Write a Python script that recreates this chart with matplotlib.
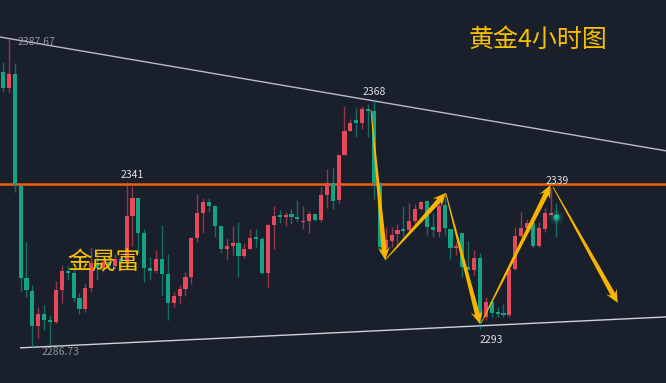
import numpy as np
import matplotlib
matplotlib.use("Agg")
import matplotlib.pyplot as plt
from matplotlib.patches import Polygon

plt.rcParams['font.family'] = ['Noto Sans CJK SC', 'DejaVu Sans']

# gold 4h candles (index = bar number)
opens = [2377.0, 2371.7, 2376.3, 2339.7, 2309.6, 2305.4, 2294.0, 2297.9, 2295.9, 2295.4,
         2305.7, 2311.9, 2311.3, 2303.1, 2299.5, 2306.4, 2314.5, 2312.9, 2314.9, 2313.6,
         2315.9, 2314.5, 2329.9, 2335.8, 2324.4, 2312.9, 2311.9, 2315.9, 2311.0, 2301.5,
         2303.8, 2306.1, 2310.0, 2322.7, 2330.9, 2334.5, 2333.2, 2326.6, 2319.1, 2320.1,
         2321.1, 2316.8, 2319.1, 2322.7, 2322.4, 2311.3, 2327.0, 2329.9, 2329.6, 2330.6,
         2329.6, 2327.9, 2328.3, 2330.6, 2328.6, 2336.8, 2340.7, 2335.1, 2349.9, 2357.7,
         2361.3, 2360.3, 2364.9, 2364.2, 2340.7, 2319.5, 2321.7, 2324.0, 2325.7, 2325.3,
         2328.3, 2332.2, 2334.8, 2326.3, 2324.7, 2333.5, 2325.7, 2319.5, 2324.4, 2313.2,
         2312.3, 2316.2, 2296.9, 2301.8, 2298.2, 2298.2, 2297.6, 2312.6, 2323.4, 2326.0,
         2327.6, 2320.1, 2325.7, 2330.2, 2330.2]
highs = [2380.2, 2387.67, 2379.9, 2339.7, 2321.4, 2307.4, 2300.2, 2300.8, 2297.6, 2308.7,
         2313.9, 2313.9, 2312.9, 2304.8, 2308.0, 2319.8, 2317.8, 2316.2, 2316.8, 2317.5,
         2316.8, 2341.0, 2339.7, 2335.8, 2325.7, 2316.5, 2318.8, 2327.0, 2317.5, 2305.1,
         2307.4, 2311.6, 2323.0, 2337.1, 2335.8, 2335.8, 2333.5, 2326.6, 2322.7, 2326.6,
         2327.9, 2321.1, 2325.7, 2325.7, 2323.0, 2327.6, 2333.2, 2331.9, 2331.2, 2332.2,
         2335.1, 2333.2, 2331.5, 2330.6, 2339.4, 2345.3, 2345.9, 2349.9, 2365.9, 2361.6,
         2365.2, 2365.9, 2366.5, 2368.0, 2340.7, 2326.3, 2326.3, 2327.3, 2333.2, 2334.2,
         2333.8, 2334.8, 2334.8, 2330.9, 2335.1, 2337.4, 2325.7, 2321.4, 2324.4, 2321.7,
         2318.8, 2317.8, 2303.4, 2301.8, 2300.2, 2301.2, 2312.6, 2326.3, 2331.2, 2328.9,
         2328.6, 2327.9, 2332.5, 2339.0, 2334.2]
lows = [2370.4, 2370.1, 2337.8, 2305.1, 2303.4, 2286.73, 2290.0, 2292.7, 2287.8, 2295.0,
        2301.5, 2309.0, 2301.8, 2297.9, 2298.5, 2305.0, 2309.0, 2311.6, 2312.3, 2312.6,
        2312.9, 2314.0, 2320.1, 2317.8, 2308.3, 2309.3, 2311.3, 2304.1, 2295.9, 2300.2,
        2301.5, 2303.8, 2307.7, 2321.4, 2324.4, 2331.2, 2323.0, 2317.8, 2315.5, 2317.2,
        2310.0, 2316.2, 2319.1, 2319.8, 2311.0, 2306.7, 2319.1, 2327.6, 2326.6, 2327.3,
        2327.9, 2325.7, 2324.4, 2328.3, 2327.9, 2332.5, 2332.2, 2334.2, 2349.9, 2357.7,
        2355.7, 2358.3, 2355.7, 2335.5, 2317.8, 2317.2, 2319.8, 2319.8, 2323.0, 2324.7,
        2327.6, 2331.9, 2323.7, 2323.0, 2323.0, 2323.7, 2315.9, 2317.2, 2310.0, 2312.3,
        2310.6, 2293.0, 2295.9, 2296.9, 2296.9, 2296.9, 2296.9, 2312.3, 2323.0, 2325.3,
        2319.5, 2319.8, 2324.7, 2330.2, 2323.0]
closes = [2371.7, 2376.3, 2340.0, 2309.6, 2305.7, 2294.0, 2297.9, 2295.9, 2295.4, 2305.7,
          2311.9, 2311.3, 2303.1, 2299.5, 2306.4, 2314.5, 2312.9, 2314.9, 2313.6, 2315.9,
          2314.5, 2329.9, 2335.8, 2324.4, 2312.9, 2311.9, 2315.9, 2311.0, 2301.5, 2303.8,
          2306.1, 2310.0, 2322.7, 2330.9, 2334.5, 2333.2, 2326.6, 2319.1, 2320.1, 2321.1,
          2316.8, 2319.1, 2322.7, 2322.4, 2311.3, 2327.0, 2329.9, 2329.6, 2330.2, 2329.6,
          2328.9, 2328.3, 2330.6, 2328.6, 2336.8, 2340.7, 2334.8, 2349.9, 2357.7, 2360.3,
          2360.3, 2364.9, 2364.2, 2340.7, 2319.8, 2322.1, 2323.7, 2325.3, 2325.0, 2328.3,
          2332.2, 2334.5, 2326.3, 2325.3, 2333.2, 2326.0, 2319.5, 2319.8, 2313.2, 2312.3,
          2316.2, 2296.9, 2301.8, 2298.2, 2297.9, 2297.6, 2312.6, 2323.4, 2326.0, 2327.6,
          2320.1, 2326.0, 2330.9, 2330.9, 2329.6]

# drawn levels / trendlines: (bar, price)
resist_level = 2340.4
upper_line = [(-0.5, 2388.4), (112.6, 2351.2)]
lower_line = [(3.0, 2286.8), (112.6, 2296.9)]

# projected path arrows (bar, price)
arrow_path = [
    [(62.5, 2364.6), (64.9, 2315.5)],
    [(64.9, 2315.5), (75.2, 2337.4)],
    [(75.2, 2337.4), (81.0, 2294.6)],
    [(81.2, 2294.9), (93.0, 2340.0)],
    [(93.4, 2339.4), (104.4, 2301.5)],
]

BG = '#1a1f2c'
UP = '#e5495b'     # red = rising
DOWN = '#13a486'   # green = falling
GOLD = '#f7b500'

fig = plt.figure(figsize=(6.66, 3.83), dpi=100, facecolor=BG)
ax = fig.add_axes([0, 0, 1, 1])
ax.set_facecolor(BG)
ax.set_xlim(-0.5, 112.6)
ax.set_ylim(2275.3, 2400.5)
ax.axis('off')

# trend lines
ax.plot(*zip(*upper_line), color='#d8d8dc', lw=1.0, alpha=0.85, zorder=1)
ax.plot(*zip(*lower_line), color='#e6e6ea', lw=1.0, alpha=0.9, zorder=1)
ax.axhline(resist_level, color='#f2600c', lw=1.8, zorder=2)

# candles
o = np.array(opens); h = np.array(highs); l = np.array(lows); c = np.array(closes)
idx = np.arange(len(o))
cols = np.where(c >= o, UP, DOWN)
ax.vlines(idx, l, h, colors=cols, lw=1.0, alpha=0.6, zorder=3)
body_lo = np.minimum(o, c)
body_h = np.maximum(np.abs(c - o), 0.5)
ax.bar(idx, body_h, bottom=body_lo, width=0.7, color=cols, lw=0, zorder=4)

# live price glow on last bar
for s, a in [(120, 0.08), (60, 0.15), (25, 0.35), (10, 0.9)]:
    ax.scatter(idx[-1], c[-1], s=s, color='#19c7a0', alpha=a, lw=0, zorder=5)

# price labels
lab = dict(color='#dfe1e6', fontsize=7.5, ha='center', zorder=6)
ax.text(21.9, highs[21] + 0.8, '2341', va='bottom', **lab)
ax.text(63, highs[63] + 0.8, '2368', va='bottom', **lab)
ax.text(94.1, highs[93] + 0.8, '2339', va='bottom', **lab)
ax.text(83.0, lows[81] - 2.0, '2293', va='top', **lab)
ax.text(2.4, highs[1] - 0.9, '2387.67', color='#8e929c', fontsize=7.5, va='center', ha='left')
ax.text(6.6, lows[5] - 1.2, '2286.73', color='#8e929c', fontsize=7.5, va='center', ha='left')


def taper_arrow(p0, p1, w_end=5.0, head_w=12.0, head_len=13.0):
    tr = ax.transData
    x0, y0 = tr.transform(p0)
    x1, y1 = tr.transform(p1)
    d = np.hypot(x1 - x0, y1 - y0)
    ux, uy = (x1 - x0) / d, (y1 - y0) / d
    nx, ny = -uy, ux
    bx, by = x1 - ux * head_len, y1 - uy * head_len
    nbx, nby = x1 - ux * head_len * 0.75, y1 - uy * head_len * 0.75
    pts = [
        (x0 + nx * 0.4, y0 + ny * 0.4),
        (nbx + nx * w_end / 2, nby + ny * w_end / 2),
        (bx + nx * head_w / 2, by + ny * head_w / 2),
        (x1, y1),
        (bx - nx * head_w / 2, by - ny * head_w / 2),
        (nbx - nx * w_end / 2, nby - ny * w_end / 2),
        (x0 - nx * 0.4, y0 - ny * 0.4),
    ]
    pts = tr.inverted().transform(pts)
    ax.add_patch(Polygon(pts, closed=True, color=GOLD, lw=0, zorder=7))


for seg in arrow_path:
    taper_arrow(seg[0], seg[1])

fig.text(0.703, 0.896, '黄金4小时图', color='#f6c000', fontsize=18, va='center', ha='left')
fig.text(0.101, 0.313, '金晟富', color='#f6c000', fontsize=17.5, va='center', ha='left', zorder=8)

fig.savefig('out.png', dpi=100, facecolor=BG)
